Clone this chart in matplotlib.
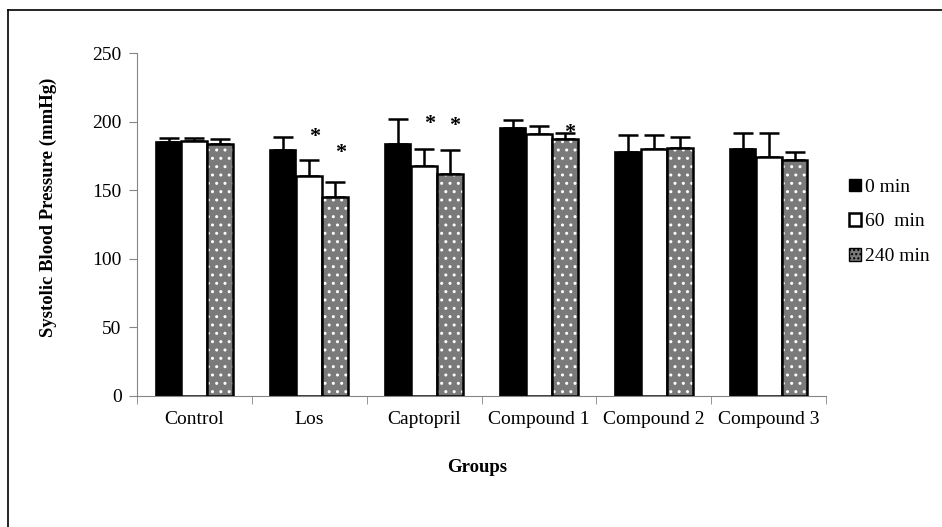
import numpy as np
import matplotlib
matplotlib.use("Agg")
import matplotlib.pyplot as plt
from matplotlib.patches import Patch
from matplotlib.lines import Line2D

# ----------------------------
# Data
# ----------------------------
groups = ["Control", "Los", "Captopril", "Compound 1", "Compound 2", "Compound 3"]
series_names = ["0 min", "60  min", "240 min"]

sbp_0 = [185, 179, 184, 195, 178, 180]
sbp_60 = [186, 160, 168, 191, 180, 174]
sbp_240 = [184, 145, 162, 187, 181, 172]

err_0 = [3, 10, 18, 6, 12, 12]
err_60 = [2, 12, 12, 6, 10, 18]
err_240 = [3, 11, 17, 5, 8, 6]

# significance stars: (group index, series index, y position)
star_group = [1, 1, 2, 2, 3]
star_series = [1, 2, 1, 2, 2]
star_y = [189, 177, 198, 197, 192]

# ----------------------------
# Plot
# ----------------------------
plt.rcParams["font.family"] = ["Liberation Serif", "DejaVu Serif"]

fig = plt.figure(figsize=(9.42, 5.27), dpi=100)
ax = fig.add_axes([0.1454, 0.2486, 0.7316, 0.6508])

x = np.arange(len(groups))
w = 0.225
values = [sbp_0, sbp_60, sbp_240]
errors = [err_0, err_60, err_240]
offsets = [-w, 0, w]

for i in range(3):
    xs = x + offsets[i]
    v = np.array(values[i])
    e = np.array(errors[i])
    ax.errorbar(xs, v, yerr=[np.zeros_like(e), e], fmt="none", ecolor="black",
                elinewidth=1.8, capsize=7.5, capthick=1.8, zorder=1)
    if i == 0:
        ax.bar(xs, v, w, color="black", edgecolor="black", linewidth=1.2, zorder=2)
    elif i == 1:
        ax.bar(xs, v, w, color="white", edgecolor="black", linewidth=1.8, zorder=2)
    else:
        ax.bar(xs, v, w, color="#7a7a7a", edgecolor="none", linewidth=0, zorder=2)
        ax.bar(xs, v, w, color="none", edgecolor="white", hatch="..", linewidth=0, zorder=3)
        ax.bar(xs, v, w, color="none", edgecolor="black", linewidth=1.8, zorder=4)

for g, s, y in zip(star_group, star_series, star_y):
    ax.text(x[g] + offsets[s] + 0.045, y, "*", ha="center", va="center",
            fontsize=16, fontweight="bold")

ax.set_xlim(-0.5, len(groups) - 0.5)
ax.set_ylim(0, 250)
ax.set_yticks(np.arange(0, 251, 50))
ax.set_xticks(x)
ax.set_xticklabels(groups, fontsize=14)
ax.set_xticks(np.arange(-0.5, len(groups), 1), minor=True)
ax.tick_params(axis="x", which="major", length=0, pad=11)
ax.tick_params(axis="x", which="minor", length=6, color="#868686", direction="out")
ax.tick_params(axis="y", length=6, color="#868686", labelsize=14, pad=5)

for side in ["top", "right"]:
    ax.spines[side].set_visible(False)
ax.spines["left"].set_color("#868686")
ax.spines["bottom"].set_color("#868686")

fig.text(0.051, 0.607, "Systolic Blood Pressure (mmHg)", rotation=90, ha="center",
         va="center", fontsize=13.5, fontweight="bold")
fig.text(0.5065, 0.112, "Groups", ha="center", va="center", fontsize=13.5, fontweight="bold")

handles = [
    Patch(facecolor="black", edgecolor="black", label=series_names[0]),
    Patch(facecolor="white", edgecolor="black", linewidth=1.8, label=series_names[1]),
    Patch(facecolor="#7a7a7a", edgecolor="black", hatch="....", label=series_names[2]),
]
fig.legend(handles=handles, loc="center left", bbox_to_anchor=(0.891, 0.579),
           frameon=False, fontsize=14, handlelength=0.62, handleheight=0.62,
           handletextpad=0.2, labelspacing=0.9, borderpad=0)

# border around chart area (top and left visible)
fig.add_artist(Line2D([0.0085, 0.0085], [0.0, 0.981], color="black", lw=1.2))
fig.add_artist(Line2D([0.0085, 1.0], [0.981, 0.981], color="black", lw=1.2))

plt.savefig("out.png", dpi=100)
